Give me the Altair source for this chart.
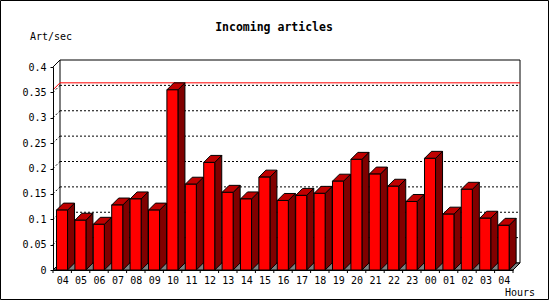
import altair as alt
import pandas as pd

# ---- data ----
hours = ["04", "05", "06", "07", "08", "09", "10", "11", "12", "13", "14", "15",
         "16", "17", "18", "19", "20", "21", "22", "23", "00", "01", "02", "03", "04"]
values = [0.118, 0.098, 0.090, 0.128, 0.140, 0.118, 0.355, 0.169, 0.212, 0.153,
          0.140, 0.183, 0.137, 0.147, 0.151, 0.175, 0.218, 0.189, 0.165, 0.135,
          0.220, 0.110, 0.159, 0.102, 0.088]
y_ticks = [0, 0.05, 0.1, 0.15, 0.2, 0.25, 0.3, 0.35, 0.4]

# ---- geometry / style ----
FONT = "DejaVu Sans Mono"
W, H = 460, 203
N = len(hours)
YMAX = 0.4
DEPTH = 7
dx = DEPTH * N / W
dy = DEPTH * YMAX / H
BAR_L, BAR_R = 0.19, 0.79
FRONT, SIDE, TOP, FLOOR = "#ff0000", "#800000", "#c00000", "#808080"

xs = alt.Scale(domain=[0, N], nice=False, zero=False)
ys = alt.Scale(domain=[0, YMAX], nice=False, zero=False)

label_expr = "[" + ",".join(f"'{h}'" for h in hours) + "][floor(datum.value)]"
X_AX = alt.Axis(values=[i + 0.5 for i in range(N)], labelExpr=label_expr, ticks=False,
                domainColor="black", labelColor="black", labelFont=FONT, labelFontSize=10,
                labelPadding=5, grid=False, title=None, zindex=1, labelAngle=0,
                labelOverlap=False, labelFlush=False)
Y_AX = alt.Axis(values=y_ticks, format=".2~f", tickSize=3, tickColor="black",
                domainColor="black", labelColor="black", labelFont=FONT, labelFontSize=10,
                labelPadding=4, grid=False, title=None, zindex=1, labelOverlap=False,
                labelFlush=False)

def X(f):
    return alt.X(f, scale=xs, axis=X_AX, stack=None)

def Y(f):
    return alt.Y(f, scale=ys, axis=Y_AX, stack=None)

bars = pd.DataFrame({"i": list(range(N)), "hour": hours, "v": values})
bars["x0"] = bars["i"] + BAR_L
bars["x1"] = bars["i"] + BAR_R
bars["z"] = 0.0

side_rows, top_rows = [], []
for i, v in enumerate(values):
    side_rows.append({"i": i, "sx": i + BAR_R, "sy": 0.0, "sy2": v})
    side_rows.append({"i": i, "sx": i + BAR_R + dx, "sy": dy, "sy2": v + dy})
    top_rows.append({"i": i, "ty": v, "tx": i + BAR_L, "tx2": i + BAR_R})
    top_rows.append({"i": i, "ty": v + dy, "tx": i + BAR_L + dx, "tx2": i + BAR_R + dx})
side = pd.DataFrame(side_rows)
top = pd.DataFrame(top_rows)

plane = pd.DataFrame({"a": [dx], "b": [N + dx], "c": [dy], "d": [YMAX + dy]})
floor = pd.DataFrame({"fy": [0.0, dy], "fx": [0.0, dx], "fx2": [float(N), N + dx]})
corner = pd.DataFrame({"a": [0.0], "b": [dx], "c": [YMAX], "d": [YMAX + dy]})

grid_vals = y_ticks[1:-1]
grid = pd.DataFrame({"g": [g + dy for g in grid_vals], "a": dx, "b": N + dx})
grid_diag = pd.DataFrame({"a": 0.0, "b": dx, "c": grid_vals, "d": [g + dy for g in grid_vals]})
vmax = max(values)
maxline = pd.DataFrame({"g": [vmax + dy], "a": [dx], "b": [N + dx]})
maxdiag = pd.DataFrame({"a": [0.0], "b": [dx], "c": [vmax], "d": [vmax + dy]})
xt = pd.DataFrame({"t": list(range(N + 1))})
one = pd.DataFrame({"k": [0]})

back = alt.Chart(plane).mark_rect(fill="white", stroke="black", strokeWidth=1, opacity=1).encode(
    x=X("a:Q"), x2="b:Q", y=Y("c:Q"), y2="d:Q")
corner_l = alt.Chart(corner).mark_rule(color="black", strokeWidth=1).encode(
    x=X("a:Q"), x2="b:Q", y=Y("c:Q"), y2="d:Q")
grid_l = alt.Chart(grid).mark_rule(color="black", strokeWidth=1, strokeDash=[2, 2]).encode(
    x=X("a:Q"), x2="b:Q", y=Y("g:Q"))
grid_d = alt.Chart(grid_diag).mark_rule(color="black", strokeWidth=1, strokeDash=[2, 2]).encode(
    x=X("a:Q"), x2="b:Q", y=Y("c:Q"), y2="d:Q")
max_l = alt.Chart(maxline).mark_rule(color="#ff0000", strokeWidth=1).encode(
    x=X("a:Q"), x2="b:Q", y=Y("g:Q"))
max_d = alt.Chart(maxdiag).mark_rule(color="#ff0000", strokeWidth=1).encode(
    x=X("a:Q"), x2="b:Q", y=Y("c:Q"), y2="d:Q")
floor_l = alt.Chart(floor).mark_area(orient="horizontal", fill=FLOOR, stroke="black",
                                     strokeWidth=1, opacity=1).encode(
    y=Y("fy:Q"), x=X("fx:Q"), x2="fx2:Q")
side_l = alt.Chart(side).mark_area(fill=SIDE, stroke="black", strokeWidth=1, opacity=1).encode(
    x=X("sx:Q"), y=Y("sy:Q"), y2="sy2:Q", detail="i:N")
top_l = alt.Chart(top).mark_area(orient="horizontal", fill=TOP, stroke="black",
                                 strokeWidth=1, opacity=1).encode(
    y=Y("ty:Q"), x=X("tx:Q"), x2="tx2:Q", detail="i:N")
front_l = alt.Chart(bars).mark_rect(fill=FRONT, stroke="black", strokeWidth=1, opacity=1).encode(
    x=X("x0:Q"), x2="x1:Q", y=Y("z:Q"), y2="v:Q")
xticks = alt.Chart(xt).mark_rule(color="black", strokeWidth=1).encode(
    x=X("t:Q"), y=alt.value(H), y2=alt.value(H + 3))

title = alt.Chart(one).mark_text(text="Incoming articles", font=FONT, fontSize=11.5,
                                 fontWeight="bold", color="black", align="center",
                                 baseline="middle").encode(x=alt.value(221), y=alt.value(-39.5))
ylab = alt.Chart(one).mark_text(text="Art/sec", font=FONT, fontSize=10, color="black",
                                align="left", baseline="middle").encode(
    x=alt.value(-23), y=alt.value(-30.5))
xlab = alt.Chart(one).mark_text(text="Hours", font=FONT, fontSize=10, color="black",
                                align="left", baseline="middle").encode(
    x=alt.value(452), y=alt.value(225.5))
frame = alt.Chart(one).mark_rect(fill="transparent", stroke="black", strokeWidth=1).encode(
    x=alt.value(-52.5), x2=alt.value(495.5), y=alt.value(-66.5), y2=alt.value(232.5))

chart = alt.layer(
    back, grid_l, grid_d, max_l, max_d, corner_l, floor_l, side_l, top_l, front_l,
    xticks, title, ylab, xlab, frame
).properties(
    width=W, height=H,
    padding={"left": 53, "top": 67, "right": 37, "bottom": 30},
    autosize=alt.AutoSizeParams(type="none"),
    background="white",
).configure_view(stroke=None)

chart.save("out.html", embed_options={"renderer": "svg", "actions": False})
